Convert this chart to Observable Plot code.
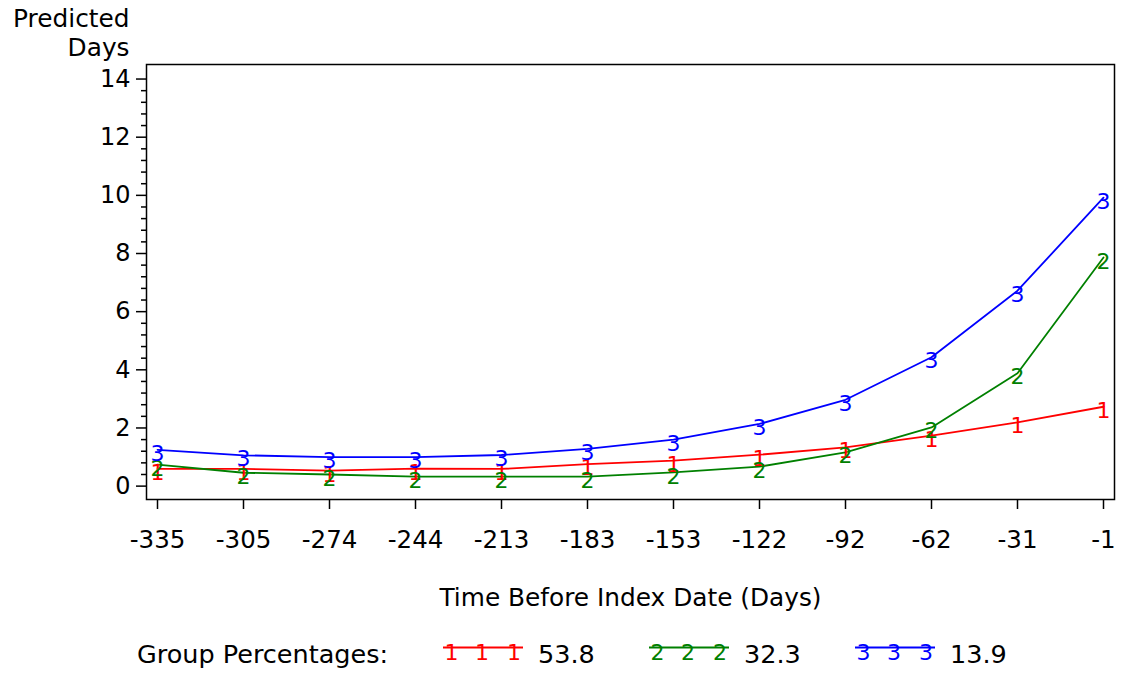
<!DOCTYPE html>
<html><head><meta charset="utf-8">
<script src="https://cdn.jsdelivr.net/npm/d3@7"></script>
<script src="https://cdn.jsdelivr.net/npm/@observablehq/plot@0.6"></script>
<style>
body{margin:0;background:#fff;font-family:"DejaVu Sans",sans-serif;}
#legend{height:53px;display:flex;align-items:flex-start;padding-left:137px;padding-top:20px;box-sizing:border-box;font-size:25.5px;line-height:28px;color:#000;white-space:nowrap;}
#legend span{display:block;}
#legend svg{display:block;overflow:visible;}
</style></head><body><div id="chart"></div><div id="legend"></div>
<script>
const days = [-335, -305, -274, -244, -213, -183, -153, -122, -92, -62, -31, -1];
const group1 = [0.59, 0.59, 0.53, 0.60, 0.59, 0.76, 0.88, 1.08, 1.33, 1.74, 2.19, 2.73];
const group2 = [0.74, 0.46, 0.40, 0.33, 0.33, 0.33, 0.47, 0.67, 1.16, 2.02, 3.88, 7.86];
const group3 = [1.25, 1.06, 1.00, 1.00, 1.07, 1.28, 1.60, 2.14, 2.97, 4.43, 6.72, 9.92];
const groupLabels = ["1", "2", "3"];
const groupPcts = ["53.8", "32.3", "13.9"];
const groupColors = ["#ff0000", "#008000", "#0000ff"];
const yTicks = [0, 2, 4, 6, 8, 10, 12, 14];
const xTitle = "Time Before Index Date (Days)";
const yTitle = ["Predicted", "Days"];
const legendTitle = "Group Percentages:";

const rows = [];
[group1, group2, group3].forEach((vals, g) =>
  vals.forEach((v, i) => rows.push({day: days[i], value: v, group: groupLabels[g]})));
const minorTicks = d3.range(0, 35).filter(i => i % 5 !== 0).map(i => +(i * 0.4).toFixed(1));

const chart = Plot.plot({
  width: 1125, height: 620,
  marginLeft: 146, marginRight: 11, marginTop: 64, marginBottom: 121,
  style: {fontFamily: "DejaVu Sans", fontSize: "24px", background: "white", color: "black"},
  x: {type: "point", domain: days, padding: 0.084, axis: null},
  y: {domain: [-0.46, 14.5], axis: null},
  color: {domain: groupLabels, range: groupColors},
  marks: [
    Plot.axisY({ticks: minorTicks, tickSize: 5, tickFormat: () => "", label: null, strokeWidth: 1.5}),
    Plot.axisY({ticks: yTicks, tickSize: 10, tickPadding: 6, fontSize: 24, label: null, strokeWidth: 1.5}),
    Plot.axisX({ticks: days, tickSize: 10, tickPadding: 21, fontSize: 24.5, tickFormat: d => String(d), label: null, strokeWidth: 1.5}),
    Plot.frame({stroke: "black", strokeWidth: 1.5}),
    Plot.line(rows, {x: "day", y: "value", z: "group", stroke: "group", strokeWidth: 1.8}),
    Plot.text(rows, {x: "day", y: "value", text: "group", fill: "group", fontSize: 22, dy: 4}),
    Plot.text([xTitle], {frameAnchor: "bottom", lineAnchor: "middle", dy: 99, fontSize: 24.8}),
    Plot.text([yTitle[0]], {frameAnchor: "top-left", textAnchor: "end", lineAnchor: "bottom", dx: -17, dy: -38, fontSize: 24.8}),
    Plot.text([yTitle[1]], {frameAnchor: "top-left", textAnchor: "end", lineAnchor: "bottom", dx: -17, dy: -9, fontSize: 24.8})
  ]
});
document.getElementById("chart").appendChild(chart);

const legend = d3.select("#legend");
legend.append("span").text(legendTitle).style("width", "306px");
groupLabels.forEach((g, i) => {
  const svg = legend.append("svg").attr("width", 80).attr("height", 28).style("margin-right", "15px");
  svg.append("line").attr("x1", 0).attr("x2", 80).attr("y1", 7.5).attr("y2", 7.5)
    .attr("stroke", groupColors[i]).attr("stroke-width", 1.8);
  [8.5, 39, 71].forEach(x => svg.append("text").attr("x", x).attr("y", 19.5)
    .attr("text-anchor", "middle").attr("fill", groupColors[i]).attr("font-size", 22)
    .attr("font-family", "DejaVu Sans").text(g));
  legend.append("span").text(groupPcts[i]).style("width", "111px");
});
</script></body></html>
